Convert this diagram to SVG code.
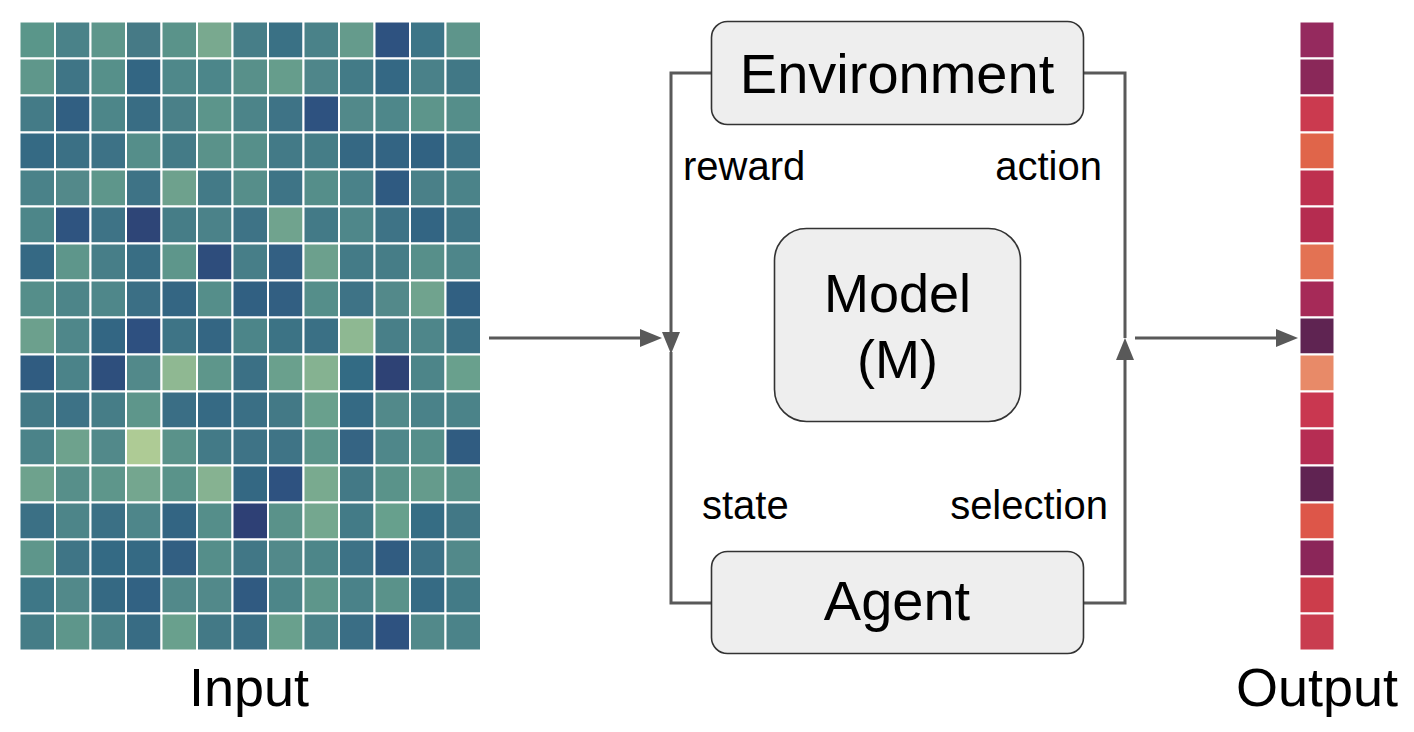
<svg xmlns="http://www.w3.org/2000/svg" width="1414" height="732" viewBox="0 0 1414 732">
<style>
.c{stroke:#ffffff;stroke-width:2}
.box{fill:#eeeeee;stroke:#333333;stroke-width:1.6}
.lbl{font-family:"Liberation Sans",Arial,sans-serif;fill:#000000}
.big{font-size:56px}
.small{font-size:40px}
.conn{fill:none;stroke:#595959;stroke-width:3}
</style>
<defs>
<marker id="ah" viewBox="0 0 22 18" refX="0" refY="9" markerWidth="22" markerHeight="18" markerUnits="userSpaceOnUse" orient="auto">
<path d="M0,0 L22,9 L0,18 z" fill="#595959"/>
</marker>
</defs>
<rect width="1414" height="732" fill="#ffffff"/>
<g id="input-grid">
<g transform="translate(19.5,21.5)">
<rect class="c" x="0" y="0" width="35.5" height="37" fill="#5a968a"/><rect class="c" x="35.5" y="0" width="35.5" height="37" fill="#4a8289"/><rect class="c" x="71" y="0" width="35.5" height="37" fill="#5e968b"/><rect class="c" x="106.5" y="0" width="35.5" height="37" fill="#467a86"/><rect class="c" x="142" y="0" width="35.5" height="37" fill="#5a938a"/><rect class="c" x="177.5" y="0" width="35.5" height="37" fill="#79a98f"/><rect class="c" x="213" y="0" width="35.5" height="37" fill="#477e88"/><rect class="c" x="248.5" y="0" width="35.5" height="37" fill="#3a7185"/><rect class="c" x="284" y="0" width="35.5" height="37" fill="#4a8289"/><rect class="c" x="319.5" y="0" width="35.5" height="37" fill="#659b8c"/><rect class="c" x="355" y="0" width="35.5" height="37" fill="#2e5280"/><rect class="c" x="390.5" y="0" width="35.5" height="37" fill="#3d7587"/><rect class="c" x="426" y="0" width="35.5" height="37" fill="#5e958b"/>
<rect class="c" x="0" y="37" width="35.5" height="37" fill="#5f978b"/><rect class="c" x="35.5" y="37" width="35.5" height="37" fill="#3f7586"/><rect class="c" x="71" y="37" width="35.5" height="37" fill="#56908a"/><rect class="c" x="106.5" y="37" width="35.5" height="37" fill="#336683"/><rect class="c" x="142" y="37" width="35.5" height="37" fill="#4f888a"/><rect class="c" x="177.5" y="37" width="35.5" height="37" fill="#4c868a"/><rect class="c" x="213" y="37" width="35.5" height="37" fill="#58908a"/><rect class="c" x="248.5" y="37" width="35.5" height="37" fill="#669d8c"/><rect class="c" x="284" y="37" width="35.5" height="37" fill="#4f868a"/><rect class="c" x="319.5" y="37" width="35.5" height="37" fill="#437b87"/><rect class="c" x="355" y="37" width="35.5" height="37" fill="#346884"/><rect class="c" x="390.5" y="37" width="35.5" height="37" fill="#4a8189"/><rect class="c" x="426" y="37" width="35.5" height="37" fill="#417886"/>
<rect class="c" x="0" y="74" width="35.5" height="37" fill="#447b87"/><rect class="c" x="35.5" y="74" width="35.5" height="37" fill="#315f82"/><rect class="c" x="71" y="74" width="35.5" height="37" fill="#4d8689"/><rect class="c" x="106.5" y="74" width="35.5" height="37" fill="#396d84"/><rect class="c" x="142" y="74" width="35.5" height="37" fill="#4a8088"/><rect class="c" x="177.5" y="74" width="35.5" height="37" fill="#5c958b"/><rect class="c" x="213" y="74" width="35.5" height="37" fill="#4c8489"/><rect class="c" x="248.5" y="74" width="35.5" height="37" fill="#3e7386"/><rect class="c" x="284" y="74" width="35.5" height="37" fill="#2e5280"/><rect class="c" x="319.5" y="74" width="35.5" height="37" fill="#52898a"/><rect class="c" x="355" y="74" width="35.5" height="37" fill="#4e878a"/><rect class="c" x="390.5" y="74" width="35.5" height="37" fill="#5d958b"/><rect class="c" x="426" y="74" width="35.5" height="37" fill="#558e8a"/>
<rect class="c" x="0" y="111" width="35.5" height="37" fill="#356a84"/><rect class="c" x="35.5" y="111" width="35.5" height="37" fill="#3b7085"/><rect class="c" x="71" y="111" width="35.5" height="37" fill="#3d7286"/><rect class="c" x="106.5" y="111" width="35.5" height="37" fill="#558e8a"/><rect class="c" x="142" y="111" width="35.5" height="37" fill="#447b87"/><rect class="c" x="177.5" y="111" width="35.5" height="37" fill="#5a928a"/><rect class="c" x="213" y="111" width="35.5" height="37" fill="#568f8a"/><rect class="c" x="248.5" y="111" width="35.5" height="37" fill="#437a87"/><rect class="c" x="284" y="111" width="35.5" height="37" fill="#457d87"/><rect class="c" x="319.5" y="111" width="35.5" height="37" fill="#356883"/><rect class="c" x="355" y="111" width="35.5" height="37" fill="#336483"/><rect class="c" x="390.5" y="111" width="35.5" height="37" fill="#316282"/><rect class="c" x="426" y="111" width="35.5" height="37" fill="#3d7386"/>
<rect class="c" x="0" y="148" width="35.5" height="37" fill="#4a8289"/><rect class="c" x="35.5" y="148" width="35.5" height="37" fill="#53898a"/><rect class="c" x="71" y="148" width="35.5" height="37" fill="#5e968b"/><rect class="c" x="106.5" y="148" width="35.5" height="37" fill="#3e7386"/><rect class="c" x="142" y="148" width="35.5" height="37" fill="#6ea18d"/><rect class="c" x="177.5" y="148" width="35.5" height="37" fill="#437a87"/><rect class="c" x="213" y="148" width="35.5" height="37" fill="#568e8a"/><rect class="c" x="248.5" y="148" width="35.5" height="37" fill="#3e7486"/><rect class="c" x="284" y="148" width="35.5" height="37" fill="#558e8a"/><rect class="c" x="319.5" y="148" width="35.5" height="37" fill="#4a8289"/><rect class="c" x="355" y="148" width="35.5" height="37" fill="#2f5a81"/><rect class="c" x="390.5" y="148" width="35.5" height="37" fill="#4a8088"/><rect class="c" x="426" y="148" width="35.5" height="37" fill="#4b8389"/>
<rect class="c" x="0" y="185" width="35.5" height="37" fill="#4d8689"/><rect class="c" x="35.5" y="185" width="35.5" height="37" fill="#2f5480"/><rect class="c" x="71" y="185" width="35.5" height="37" fill="#3e7386"/><rect class="c" x="106.5" y="185" width="35.5" height="37" fill="#2e4577"/><rect class="c" x="142" y="185" width="35.5" height="37" fill="#467d87"/><rect class="c" x="177.5" y="185" width="35.5" height="37" fill="#4b8289"/><rect class="c" x="213" y="185" width="35.5" height="37" fill="#3e7386"/><rect class="c" x="248.5" y="185" width="35.5" height="37" fill="#70a38e"/><rect class="c" x="284" y="185" width="35.5" height="37" fill="#437a87"/><rect class="c" x="319.5" y="185" width="35.5" height="37" fill="#4f878a"/><rect class="c" x="355" y="185" width="35.5" height="37" fill="#3e7386"/><rect class="c" x="390.5" y="185" width="35.5" height="37" fill="#336583"/><rect class="c" x="426" y="185" width="35.5" height="37" fill="#407686"/>
<rect class="c" x="0" y="222" width="35.5" height="37" fill="#356984"/><rect class="c" x="35.5" y="222" width="35.5" height="37" fill="#5e968b"/><rect class="c" x="71" y="222" width="35.5" height="37" fill="#477e88"/><rect class="c" x="106.5" y="222" width="35.5" height="37" fill="#396e84"/><rect class="c" x="142" y="222" width="35.5" height="37" fill="#5e968b"/><rect class="c" x="177.5" y="222" width="35.5" height="37" fill="#2e4d7c"/><rect class="c" x="213" y="222" width="35.5" height="37" fill="#477e88"/><rect class="c" x="248.5" y="222" width="35.5" height="37" fill="#336083"/><rect class="c" x="284" y="222" width="35.5" height="37" fill="#6ca08d"/><rect class="c" x="319.5" y="222" width="35.5" height="37" fill="#447b87"/><rect class="c" x="355" y="222" width="35.5" height="37" fill="#467d87"/><rect class="c" x="390.5" y="222" width="35.5" height="37" fill="#578f8a"/><rect class="c" x="426" y="222" width="35.5" height="37" fill="#4e868a"/>
<rect class="c" x="0" y="259" width="35.5" height="37" fill="#558e8a"/><rect class="c" x="35.5" y="259" width="35.5" height="37" fill="#4d8589"/><rect class="c" x="71" y="259" width="35.5" height="37" fill="#4f878a"/><rect class="c" x="106.5" y="259" width="35.5" height="37" fill="#3b6f85"/><rect class="c" x="142" y="259" width="35.5" height="37" fill="#346683"/><rect class="c" x="177.5" y="259" width="35.5" height="37" fill="#558e8a"/><rect class="c" x="213" y="259" width="35.5" height="37" fill="#316082"/><rect class="c" x="248.5" y="259" width="35.5" height="37" fill="#325f82"/><rect class="c" x="284" y="259" width="35.5" height="37" fill="#558e8a"/><rect class="c" x="319.5" y="259" width="35.5" height="37" fill="#3e7386"/><rect class="c" x="355" y="259" width="35.5" height="37" fill="#53898a"/><rect class="c" x="390.5" y="259" width="35.5" height="37" fill="#70a38e"/><rect class="c" x="426" y="259" width="35.5" height="37" fill="#316082"/>
<rect class="c" x="0" y="296" width="35.5" height="37" fill="#6ca08d"/><rect class="c" x="35.5" y="296" width="35.5" height="37" fill="#4f878a"/><rect class="c" x="71" y="296" width="35.5" height="37" fill="#336683"/><rect class="c" x="106.5" y="296" width="35.5" height="37" fill="#2e5080"/><rect class="c" x="142" y="296" width="35.5" height="37" fill="#3e7486"/><rect class="c" x="177.5" y="296" width="35.5" height="37" fill="#346683"/><rect class="c" x="213" y="296" width="35.5" height="37" fill="#4c8589"/><rect class="c" x="248.5" y="296" width="35.5" height="37" fill="#3c7385"/><rect class="c" x="284" y="296" width="35.5" height="37" fill="#3a7085"/><rect class="c" x="319.5" y="296" width="35.5" height="37" fill="#8eb892"/><rect class="c" x="355" y="296" width="35.5" height="37" fill="#487f88"/><rect class="c" x="390.5" y="296" width="35.5" height="37" fill="#4e868a"/><rect class="c" x="426" y="296" width="35.5" height="37" fill="#3c7185"/>
<rect class="c" x="0" y="333" width="35.5" height="37" fill="#305c81"/><rect class="c" x="35.5" y="333" width="35.5" height="37" fill="#4b8389"/><rect class="c" x="71" y="333" width="35.5" height="37" fill="#2e4f7d"/><rect class="c" x="106.5" y="333" width="35.5" height="37" fill="#52898a"/><rect class="c" x="142" y="333" width="35.5" height="37" fill="#8fb892"/><rect class="c" x="177.5" y="333" width="35.5" height="37" fill="#5e968b"/><rect class="c" x="213" y="333" width="35.5" height="37" fill="#3b7085"/><rect class="c" x="248.5" y="333" width="35.5" height="37" fill="#6aa08d"/><rect class="c" x="284" y="333" width="35.5" height="37" fill="#85b291"/><rect class="c" x="319.5" y="333" width="35.5" height="37" fill="#336b84"/><rect class="c" x="355" y="333" width="35.5" height="37" fill="#2e4275"/><rect class="c" x="390.5" y="333" width="35.5" height="37" fill="#4d8589"/><rect class="c" x="426" y="333" width="35.5" height="37" fill="#69a08d"/>
<rect class="c" x="0" y="370" width="35.5" height="37" fill="#437986"/><rect class="c" x="35.5" y="370" width="35.5" height="37" fill="#3d7286"/><rect class="c" x="71" y="370" width="35.5" height="37" fill="#467d87"/><rect class="c" x="106.5" y="370" width="35.5" height="37" fill="#5e968b"/><rect class="c" x="142" y="370" width="35.5" height="37" fill="#3a6e85"/><rect class="c" x="177.5" y="370" width="35.5" height="37" fill="#366a84"/><rect class="c" x="213" y="370" width="35.5" height="37" fill="#3a6f85"/><rect class="c" x="248.5" y="370" width="35.5" height="37" fill="#437986"/><rect class="c" x="284" y="370" width="35.5" height="37" fill="#69a08d"/><rect class="c" x="319.5" y="370" width="35.5" height="37" fill="#356a84"/><rect class="c" x="355" y="370" width="35.5" height="37" fill="#52898a"/><rect class="c" x="390.5" y="370" width="35.5" height="37" fill="#4a8289"/><rect class="c" x="426" y="370" width="35.5" height="37" fill="#4b8389"/>
<rect class="c" x="0" y="407" width="35.5" height="37" fill="#4b8389"/><rect class="c" x="35.5" y="407" width="35.5" height="37" fill="#6ea28d"/><rect class="c" x="71" y="407" width="35.5" height="37" fill="#52898a"/><rect class="c" x="106.5" y="407" width="35.5" height="37" fill="#aecb95"/><rect class="c" x="142" y="407" width="35.5" height="37" fill="#5a928a"/><rect class="c" x="177.5" y="407" width="35.5" height="37" fill="#437a87"/><rect class="c" x="213" y="407" width="35.5" height="37" fill="#3e7386"/><rect class="c" x="248.5" y="407" width="35.5" height="37" fill="#3f7486"/><rect class="c" x="284" y="407" width="35.5" height="37" fill="#5c958b"/><rect class="c" x="319.5" y="407" width="35.5" height="37" fill="#356483"/><rect class="c" x="355" y="407" width="35.5" height="37" fill="#4f878a"/><rect class="c" x="390.5" y="407" width="35.5" height="37" fill="#558e8a"/><rect class="c" x="426" y="407" width="35.5" height="37" fill="#305c81"/>
<rect class="c" x="0" y="444" width="35.5" height="37" fill="#6ea28d"/><rect class="c" x="35.5" y="444" width="35.5" height="37" fill="#578f8a"/><rect class="c" x="71" y="444" width="35.5" height="37" fill="#5e968b"/><rect class="c" x="106.5" y="444" width="35.5" height="37" fill="#74a68f"/><rect class="c" x="142" y="444" width="35.5" height="37" fill="#5a938a"/><rect class="c" x="177.5" y="444" width="35.5" height="37" fill="#86b291"/><rect class="c" x="213" y="444" width="35.5" height="37" fill="#346883"/><rect class="c" x="248.5" y="444" width="35.5" height="37" fill="#2e5280"/><rect class="c" x="284" y="444" width="35.5" height="37" fill="#79aa8f"/><rect class="c" x="319.5" y="444" width="35.5" height="37" fill="#437986"/><rect class="c" x="355" y="444" width="35.5" height="37" fill="#5a938a"/><rect class="c" x="390.5" y="444" width="35.5" height="37" fill="#659b8c"/><rect class="c" x="426" y="444" width="35.5" height="37" fill="#5a928a"/>
<rect class="c" x="0" y="481" width="35.5" height="37" fill="#3b7085"/><rect class="c" x="35.5" y="481" width="35.5" height="37" fill="#4d8589"/><rect class="c" x="71" y="481" width="35.5" height="37" fill="#3b7085"/><rect class="c" x="106.5" y="481" width="35.5" height="37" fill="#4e868a"/><rect class="c" x="142" y="481" width="35.5" height="37" fill="#336583"/><rect class="c" x="177.5" y="481" width="35.5" height="37" fill="#558e8a"/><rect class="c" x="213" y="481" width="35.5" height="37" fill="#2e4075"/><rect class="c" x="248.5" y="481" width="35.5" height="37" fill="#5a928a"/><rect class="c" x="284" y="481" width="35.5" height="37" fill="#74a78f"/><rect class="c" x="319.5" y="481" width="35.5" height="37" fill="#437b87"/><rect class="c" x="355" y="481" width="35.5" height="37" fill="#67a08d"/><rect class="c" x="390.5" y="481" width="35.5" height="37" fill="#366d84"/><rect class="c" x="426" y="481" width="35.5" height="37" fill="#427886"/>
<rect class="c" x="0" y="518" width="35.5" height="37" fill="#5e968b"/><rect class="c" x="35.5" y="518" width="35.5" height="37" fill="#3f7586"/><rect class="c" x="71" y="518" width="35.5" height="37" fill="#346a84"/><rect class="c" x="106.5" y="518" width="35.5" height="37" fill="#356a84"/><rect class="c" x="142" y="518" width="35.5" height="37" fill="#325f82"/><rect class="c" x="177.5" y="518" width="35.5" height="37" fill="#558e8a"/><rect class="c" x="213" y="518" width="35.5" height="37" fill="#417786"/><rect class="c" x="248.5" y="518" width="35.5" height="37" fill="#52898a"/><rect class="c" x="284" y="518" width="35.5" height="37" fill="#4d8689"/><rect class="c" x="319.5" y="518" width="35.5" height="37" fill="#3d7286"/><rect class="c" x="355" y="518" width="35.5" height="37" fill="#315c81"/><rect class="c" x="390.5" y="518" width="35.5" height="37" fill="#3d7286"/><rect class="c" x="426" y="518" width="35.5" height="37" fill="#52898a"/>
<rect class="c" x="0" y="555" width="35.5" height="37" fill="#3e7787"/><rect class="c" x="35.5" y="555" width="35.5" height="37" fill="#52898a"/><rect class="c" x="71" y="555" width="35.5" height="37" fill="#356983"/><rect class="c" x="106.5" y="555" width="35.5" height="37" fill="#326283"/><rect class="c" x="142" y="555" width="35.5" height="37" fill="#52898a"/><rect class="c" x="177.5" y="555" width="35.5" height="37" fill="#52898a"/><rect class="c" x="213" y="555" width="35.5" height="37" fill="#305a81"/><rect class="c" x="248.5" y="555" width="35.5" height="37" fill="#4d8689"/><rect class="c" x="284" y="555" width="35.5" height="37" fill="#5e968b"/><rect class="c" x="319.5" y="555" width="35.5" height="37" fill="#4a8289"/><rect class="c" x="355" y="555" width="35.5" height="37" fill="#5a928a"/><rect class="c" x="390.5" y="555" width="35.5" height="37" fill="#366b84"/><rect class="c" x="426" y="555" width="35.5" height="37" fill="#437b87"/>
<rect class="c" x="0" y="592" width="35.5" height="37" fill="#457d87"/><rect class="c" x="35.5" y="592" width="35.5" height="37" fill="#5e968b"/><rect class="c" x="71" y="592" width="35.5" height="37" fill="#4b8389"/><rect class="c" x="106.5" y="592" width="35.5" height="37" fill="#386c84"/><rect class="c" x="142" y="592" width="35.5" height="37" fill="#69a08d"/><rect class="c" x="177.5" y="592" width="35.5" height="37" fill="#437986"/><rect class="c" x="213" y="592" width="35.5" height="37" fill="#3b6f85"/><rect class="c" x="248.5" y="592" width="35.5" height="37" fill="#69a08d"/><rect class="c" x="284" y="592" width="35.5" height="37" fill="#4b8389"/><rect class="c" x="319.5" y="592" width="35.5" height="37" fill="#3a6e85"/><rect class="c" x="355" y="592" width="35.5" height="37" fill="#2e5280"/><rect class="c" x="390.5" y="592" width="35.5" height="37" fill="#52898a"/><rect class="c" x="426" y="592" width="35.5" height="37" fill="#4b8389"/>
</g>
<text class="lbl" x="249" y="706" font-size="54" text-anchor="middle">Input</text>
</g>
<g id="output-column">
<g transform="translate(1299.5,21.5)">
<rect class="c" x="0" y="0" width="35" height="37" fill="#952a5e"/>
<rect class="c" x="0" y="37" width="35" height="37" fill="#8a2859"/>
<rect class="c" x="0" y="74" width="35" height="37" fill="#cb3a4f"/>
<rect class="c" x="0" y="111" width="35" height="37" fill="#e0654a"/>
<rect class="c" x="0" y="148" width="35" height="37" fill="#be304f"/>
<rect class="c" x="0" y="185" width="35" height="37" fill="#b52c50"/>
<rect class="c" x="0" y="222" width="35" height="37" fill="#e37253"/>
<rect class="c" x="0" y="259" width="35" height="37" fill="#a62a58"/>
<rect class="c" x="0" y="296" width="35" height="37" fill="#5f2452"/>
<rect class="c" x="0" y="333" width="35" height="37" fill="#e88a68"/>
<rect class="c" x="0" y="370" width="35" height="37" fill="#c93750"/>
<rect class="c" x="0" y="407" width="35" height="37" fill="#b62d53"/>
<rect class="c" x="0" y="444" width="35" height="37" fill="#602352"/>
<rect class="c" x="0" y="481" width="35" height="37" fill="#dd5649"/>
<rect class="c" x="0" y="518" width="35" height="37" fill="#8b2659"/>
<rect class="c" x="0" y="555" width="35" height="37" fill="#cc3d4b"/>
<rect class="c" x="0" y="592" width="35" height="37" fill="#c93d4f"/>
</g>
<text class="lbl" x="1317" y="706" font-size="54" text-anchor="middle">Output</text>
</g>
<g id="connectors">
<path class="conn" d="M711,73 H671 V332" marker-end="url(#ah)"/>
<path class="conn" d="M711,603 H671 V352"/>
<path class="conn" d="M1083,73 H1125 V338"/>
<path class="conn" d="M1083,603 H1125 V360" marker-end="url(#ah)"/>
<path class="conn" d="M489,338 H640" marker-end="url(#ah)"/>
<path class="conn" d="M1135,338 H1276" marker-end="url(#ah)"/>
<text class="lbl small" x="683" y="180">reward</text>
<text class="lbl small" x="1102" y="180" text-anchor="end">action</text>
<text class="lbl small" x="702" y="519">state</text>
<text class="lbl small" x="1108" y="519" text-anchor="end">selection</text>
</g>
<g id="environment">
<rect class="box" x="711.5" y="21.5" width="372" height="103" rx="16" ry="16"/>
<text class="lbl big" x="897" y="93" text-anchor="middle">Environment</text>
</g>
<g id="model">
<rect class="box" x="774.5" y="228.5" width="246" height="193" rx="32" ry="32"/>
<text class="lbl" x="897.5" y="312" font-size="54" text-anchor="middle">Model</text>
<text class="lbl" x="897.5" y="378" font-size="54" text-anchor="middle">(M)</text>
</g>
<g id="agent">
<rect class="box" x="711.5" y="551.5" width="372" height="102" rx="16" ry="16"/>
<text class="lbl big" x="897" y="620" text-anchor="middle">Agent</text>
</g>
</svg>
